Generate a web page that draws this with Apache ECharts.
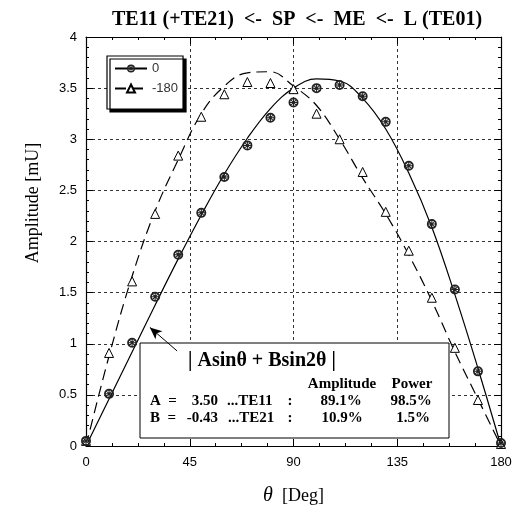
<!DOCTYPE html>
<html>
<head>
<meta charset="utf-8">
<script src="https://cdn.jsdelivr.net/npm/echarts@6/dist/echarts.min.js"></script>
<style>
  html, body { margin: 0; padding: 0; background: #fff; }
  #chart { width: 519px; height: 511px; }
</style>
</head>
<body>
<div id="chart"></div>
<script>
// measured points (deg / mU)
const thetaMarks = [0, 10, 20, 30, 40, 50, 60, 70, 80, 90, 100, 110, 120, 130, 140, 150, 160, 170, 180]
const amp0 = [0.05, 0.51, 1.01, 1.46, 1.87, 2.28, 2.63, 2.94, 3.21, 3.36, 3.50, 3.53, 3.42, 3.17, 2.74, 2.17, 1.53, 0.73, 0.03]
const amp180 = [0.05, 0.91, 1.61, 2.27, 2.84, 3.22, 3.44, 3.56, 3.55, 3.49, 3.25, 3.00, 2.68, 2.29, 1.91, 1.45, 0.96, 0.45, 0.02]

// fitted curves
const thetaFit = [0, 10, 20, 30, 40, 50, 60, 70, 80, 90, 100, 110, 120, 130, 140, 150, 160, 170, 180]
const fit0 = [0, 0.46, 0.92, 1.38, 1.83, 2.26, 2.66, 3.01, 3.30, 3.50, 3.59, 3.57, 3.40, 3.10, 2.67, 2.14, 1.48, 0.76, 0]
const fit180 = [0, 0.88, 1.66, 2.30, 2.80, 3.25, 3.52, 3.65, 3.66, 3.52, 3.33, 3.00, 2.62, 2.27, 1.87, 1.42, 0.92, 0.46, 0]

const legendNames = ['0', '-180']
const xTicks = { min: 0, max: 180, step: 45 }
const yTicks = { min: 0, max: 4, step: 0.5 }

const crossCircle = 'path://M10 0A10 10 0 1 1 10 20A10 10 0 1 1 10 0ZM10 3.5A6.5 6.5 0 1 0 10 16.5A6.5 6.5 0 1 0 10 3.5ZM9 1H11V19H9ZM1 9H19V11H1ZM3.6 5L5 3.6L16.4 15L15 16.4ZM15 3.6L16.4 5L5 16.4L3.6 15Z'

const zip = (xs, ys) => xs.map((x, i) => [x, ys[i]])

const serif = '"Liberation Serif", "DejaVu Serif", serif'
const sans = '"Liberation Sans", Arial, sans-serif'

const gridDash = { show: true, lineStyle: { color: '#333', width: 1, type: [3, 3] } }

function frameAxis(extra) {
  return Object.assign({
    type: 'value',
    axisLine: { show: true, onZero: false, lineStyle: { color: '#000', width: 1.2 } },
    axisTick: { show: true, inside: true, length: 7, lineStyle: { color: '#000' } },
    minorTick: { show: true, length: 3, lineStyle: { color: '#000' } },
  }, extra)
}

// annotation text inside the box
function boxText(x, y, text, align, size) {
  return {
    type: 'text', x: x, y: y, z: 2,
    style: {
      text: text,
      fontFamily: serif,
      fontWeight: 'bold',
      fontSize: size || 15,
      fill: '#000',
      align: align,
      verticalAlign: 'middle'
    }
  }
}

const option = {
  animation: false,
  backgroundColor: '#fff',
  title: {
    text: 'TE11 (+TE21)  <-  SP  <-  ME  <-  L (TE01)',
    left: 107,
    top: 5,
    textStyle: { fontFamily: serif, fontWeight: 'bold', fontSize: 20, color: '#000' }
  },
  legend: {
    data: legendNames,
    orient: 'vertical',
    left: 107,
    top: 56,
    padding: [6, 5, 14, 7],
    itemWidth: 32,
    itemHeight: 10,
    itemGap: 7,
    backgroundColor: '#fff',
    borderColor: '#000',
    borderWidth: 1.2,
    shadowColor: '#000',
    shadowOffsetX: 3,
    shadowOffsetY: 3,
    shadowBlur: 0,
    textStyle: { fontFamily: sans, fontSize: 13, color: '#333' }
  },
  grid: { left: 86, right: 18, top: 37, bottom: 62 },
  xAxis: [
    frameAxis({
      min: xTicks.min, max: xTicks.max, interval: xTicks.step,
      position: 'bottom',
      minorTick: { show: true, splitNumber: 4, length: 3, lineStyle: { color: '#000' } },
      splitLine: gridDash,
      axisLabel: { fontFamily: sans, fontSize: 13, color: '#000', margin: 10 },
      name: '{t|θ}  [Deg]',
      nameLocation: 'middle',
      nameGap: 40,
      nameTextStyle: {
        fontFamily: serif, fontSize: 18, color: '#000',
        rich: { t: { fontFamily: serif, fontStyle: 'italic', fontSize: 20, color: '#000' } }
      }
    }),
    frameAxis({
      min: xTicks.min, max: xTicks.max, interval: xTicks.step,
      position: 'top',
      minorTick: { show: true, splitNumber: 4, length: 3, lineStyle: { color: '#000' } },
      splitLine: { show: false },
      axisLabel: { show: false }
    })
  ],
  yAxis: [
    frameAxis({
      min: yTicks.min, max: yTicks.max, interval: yTicks.step,
      position: 'left',
      minorTick: { show: true, splitNumber: 5, length: 3, lineStyle: { color: '#000' } },
      splitLine: gridDash,
      axisLabel: { fontFamily: sans, fontSize: 13, color: '#000', margin: 9 }
    }),
    frameAxis({
      min: yTicks.min, max: yTicks.max, interval: yTicks.step,
      position: 'right',
      minorTick: { show: true, splitNumber: 5, length: 3, lineStyle: { color: '#000' } },
      splitLine: { show: false },
      axisLabel: { show: false }
    })
  ],
  series: [
    {
      name: legendNames[0],
      type: 'line',
      data: zip(thetaFit, fit0),
      smooth: 0.4,
      showSymbol: false,
      symbol: crossCircle,
      symbolSize: 10,
      symbolKeepAspect: true,
      itemStyle: { color: '#222' },
      lineStyle: { color: '#000', width: 1.2 },
      silent: true,
      z: 3
    },
    {
      name: legendNames[1],
      type: 'line',
      data: zip(thetaFit, fit180),
      smooth: 0.4,
      showSymbol: false,
      symbol: 'triangle',
      symbolSize: 9,
      itemStyle: { color: '#fff', borderColor: '#000', borderWidth: 1 },
      lineStyle: { color: '#000', width: 1.2, type: [11, 6] },
      silent: true,
      z: 3,
      markLine: {
        silent: true,
        symbol: ['none', 'arrow'],
        symbolSize: [8, 12],
        label: { show: false },
        lineStyle: { color: '#000', width: 1, type: 'solid' },
        data: [[{ coord: [39.5, 0.93] }, { coord: [27.7, 1.16] }]]
      }
    },
    {
      name: legendNames[1],
      type: 'scatter',
      data: zip(thetaMarks, amp180),
      symbol: 'triangle',
      symbolSize: 9,
      itemStyle: { color: '#fff', borderColor: '#000', borderWidth: 1, opacity: 1 },
      z: 4
    },
    {
      name: legendNames[0],
      type: 'scatter',
      data: zip(thetaMarks, amp0),
      symbol: crossCircle,
      symbolSize: 10,
      symbolKeepAspect: true,
      itemStyle: { color: '#222', opacity: 1 },
      z: 5
    }
  ],
  graphic: [
    {
      type: 'text',
      x: 33, y: 203,
      rotation: Math.PI / 2,
      style: {
        text: 'Amplitude [mU]',
        fontFamily: serif,
        fontSize: 18,
        fill: '#000',
        align: 'center',
        verticalAlign: 'middle'
      }
    },
    {
      type: 'rect',
      z: 1,
      shape: { x: 140, y: 343, width: 309, height: 95 },
      style: { fill: '#fff', stroke: '#000', lineWidth: 1 }
    },
    boxText(262, 361, '| Asinθ + Bsin2θ |', 'center', 20),
    boxText(342, 384, 'Amplitude', 'center'),
    boxText(412, 384, 'Power', 'center'),
    boxText(150, 401, 'A  =', 'left'),
    boxText(150, 418, 'B  =', 'left'),
    boxText(218, 401, '3.50', 'right'),
    boxText(218, 418, '-0.43', 'right'),
    boxText(227, 401, '...TE11', 'left'),
    boxText(228, 418, '...TE21', 'left'),
    boxText(290, 401, ':', 'center'),
    boxText(290, 418, ':', 'center'),
    boxText(341, 401, '89.1%', 'center'),
    boxText(342, 418, '10.9%', 'center'),
    boxText(411, 401, '98.5%', 'center'),
    boxText(413, 418, '1.5%', 'center')
  ]
}

const chart = echarts.init(document.getElementById('chart'), null, { renderer: 'canvas' })
chart.setOption(option)
</script>
</body>
</html>
